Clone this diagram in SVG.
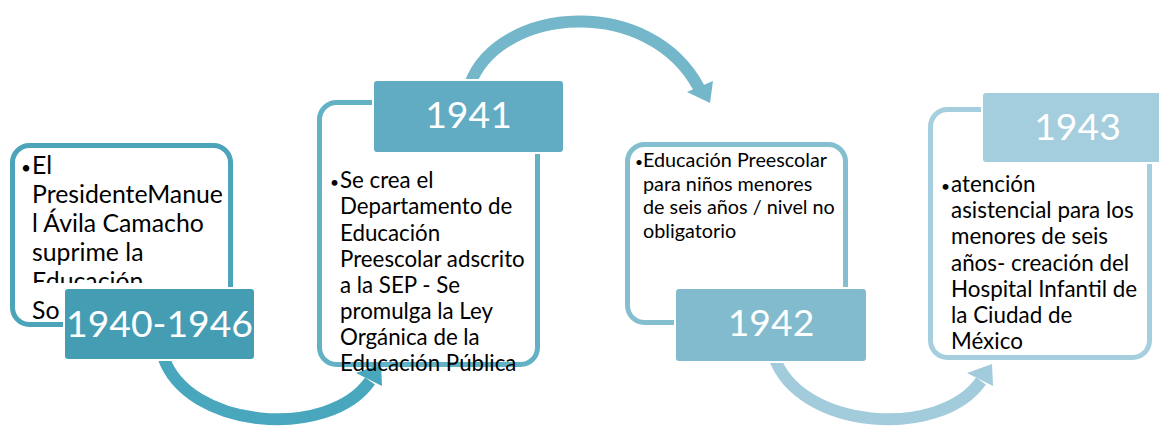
<svg xmlns="http://www.w3.org/2000/svg" width="1159" height="428" viewBox="0 0 1159 428">
<style>
.box{fill:#ffffff;stroke-width:5}
.lbl{stroke:#ffffff;stroke-width:2}
.lt{font-family:Lato,"Liberation Sans",sans-serif;fill:#ffffff;text-anchor:middle}
.bt{font-family:Lato,"Liberation Sans",sans-serif;fill:#000000}
.bu{font-size:0.7em}
.arc{fill:none;stroke-width:12}
</style>
<defs>
<clipPath id="c1"><rect x="0" y="0" width="1159" height="283"/><rect x="0" y="293" width="1159" height="140"/></clipPath>
</defs>
<g id="connectors">
<path class="arc" stroke="#48a7bd" d="M163 356 C187 430 329 440 370 381"/>
<polygon fill="#48a7bd" points="381,364 356,373 382,386"/>
<path class="arc" stroke="#75b7ca" d="M470 84 C500 5 650 -5 699 88"/>
<polygon fill="#75b7ca" points="710,103 687,92 713,81"/>
<path class="arc" stroke="#a2cbdb" d="M774 356 C798 430 940 440 981 381"/>
<polygon fill="#a2cbdb" points="992,364 967,373 993,386"/>
</g>
<g id="node1">
<rect class="box" stroke="#4ba4b9" x="12.5" y="145.5" width="218" height="179" rx="17"/>
<g clip-path="url(#c1)" class="bt" font-size="24.8">
<text x="21" y="174"><tspan class="bu">•</tspan><tspan x="32">El</tspan></text>
<text x="32" y="203">PresidenteManue</text>
<text x="32" y="232">l Ávila Camacho</text>
<text x="32" y="261">suprime la</text>
<text x="32" y="290">Educación</text>
<text x="32" y="319">So</text>
</g>
<rect class="lbl" fill="#459db4" x="64" y="288" width="191" height="72" rx="4"/>
<text class="lt" x="159.5" y="337" font-size="37.3">1940-1946</text>
</g>
<g id="node2">
<rect class="box" stroke="#63b1c5" x="319.5" y="102.5" width="218" height="262" rx="17"/>
<g class="bt" font-size="22.3">
<text x="330" y="188"><tspan class="bu">•</tspan><tspan x="340">Se crea el</tspan></text>
<text x="340" y="214">Departamento de</text>
<text x="340" y="240.5">Educación</text>
<text x="340" y="266.5">Preescolar adscrito</text>
<text x="340" y="292.5">a la SEP - Se</text>
<text x="340" y="318.5">promulga la Ley</text>
<text x="340" y="345">Orgánica de la</text>
<text x="340" y="371">Educación Pública</text>
</g>
<rect class="lbl" fill="#61abc3" x="373" y="80" width="191" height="73" rx="4"/>
<text class="lt" x="468.5" y="128" font-size="37.3">1941</text>
</g>
<g id="node3">
<rect class="box" stroke="#84bfd0" x="627.5" y="144.5" width="218" height="178" rx="17"/>
<g class="bt" font-size="19.8">
<text x="635" y="167"><tspan class="bu">•</tspan><tspan x="643">Educación Preescolar</tspan></text>
<text x="643" y="190.5">para niños menores</text>
<text x="643" y="214">de seis años / nivel no</text>
<text x="643" y="237.5">obligatorio</text>
</g>
<rect class="lbl" fill="#82bbce" x="675" y="288" width="192" height="74" rx="4"/>
<text class="lt" x="771" y="336" font-size="37.3">1942</text>
</g>
<g id="node4">
<rect class="box" stroke="#a5cfdf" x="930.5" y="109.5" width="219" height="248" rx="17"/>
<g class="bt" font-size="22.4">
<text x="941" y="192"><tspan class="bu">•</tspan><tspan x="951">atención</tspan></text>
<text x="951" y="218.2">asistencial para los</text>
<text x="951" y="244.4">menores de seis</text>
<text x="951" y="270.6">años- creación del</text>
<text x="951" y="296.8">Hospital Infantil de</text>
<text x="951" y="323">la Ciudad de</text>
<text x="951" y="349.2">México</text>
</g>
<rect class="lbl" fill="#a4cddd" x="982" y="92" width="191" height="71" rx="4"/>
<text class="lt" x="1077.5" y="140" font-size="37.3">1943</text>
</g>
</svg>
